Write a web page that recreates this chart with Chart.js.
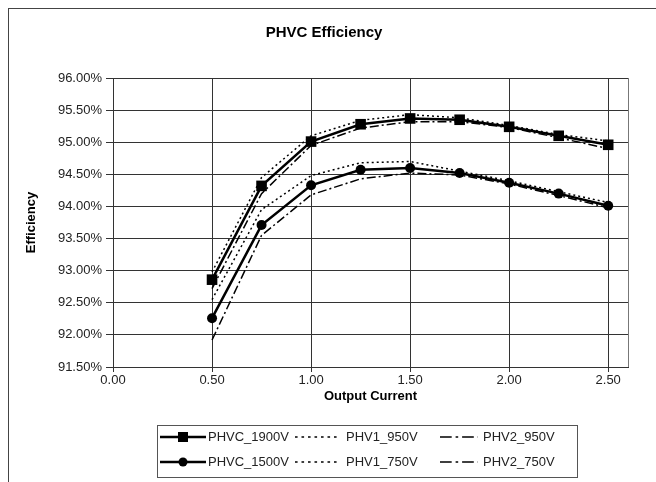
<!DOCTYPE html>
<html>
<head>
<meta charset="utf-8">
<title>PHVC Efficiency</title>
<script src="https://cdn.jsdelivr.net/npm/chart.js"></script>
<style>
  html, body { margin: 0; padding: 0; background: #fff; }
  #wrap { width: 656px; height: 482px; }
</style>
</head>
<body>
<div id="wrap"><canvas id="effChart" width="656" height="482"></canvas></div>
<script>
// values (efficiency in %)
const current = [0.5, 0.75, 1.0, 1.25, 1.5, 1.75, 2.0, 2.25, 2.5];
const phvc1900 = [92.86, 94.32, 95.01, 95.28, 95.37, 95.35, 95.24, 95.10, 94.96];
const phvc1500 = [92.26, 93.71, 94.33, 94.57, 94.60, 94.52, 94.37, 94.20, 94.01];
const phv1_950 = [92.98, 94.45, 95.10, 95.34, 95.43, 95.38, 95.26, 95.12, 95.02];
const phv1_750 = [92.55, 93.95, 94.48, 94.68, 94.70, 94.55, 94.40, 94.23, 94.06];
const phv2_950 = [92.72, 94.20, 94.95, 95.22, 95.32, 95.32, 95.23, 95.07, 94.90];
const phv2_750 = [91.92, 93.55, 94.18, 94.43, 94.52, 94.49, 94.35, 94.17, 93.98];

const FONT = '"Liberation Sans", Arial, sans-serif';

const pts = (vals) => vals.map((v, i) => ({ x: current[i], y: v }));

const solid = (label, vals, style, radius) => ({
  label, data: pts(vals),
  borderColor: '#000', backgroundColor: '#000',
  borderWidth: 2.5, pointStyle: style, pointRadius: radius,
  pointBorderWidth: 0, tension: 0
});
const dashed = (label, vals, dash) => ({
  label, data: pts(vals),
  borderColor: '#000', borderWidth: 1.5, borderDash: dash,
  pointRadius: 0, tension: 0
});

const datasets = [
  solid('PHVC_1900V', phvc1900, 'rect', 7.5),
  solid('PHVC_1500V', phvc1500, 'circle', 5),
  dashed('PHV1_950V', phv1_950, [2, 3]),
  dashed('PHV1_750V', phv1_750, [2, 3]),
  dashed('PHV2_950V', phv2_950, [9, 3, 2, 3]),
  dashed('PHV2_750V', phv2_750, [9, 3, 2, 3])
];

// outer frame, plot border and the boxed legend
const extras = {
  id: 'extras',
  beforeDraw(chart) {
    const ctx = chart.ctx;
    ctx.save();
    ctx.strokeStyle = '#444';
    ctx.lineWidth = 1;
    ctx.strokeRect(8.5, 8.5, 900, 900);
    ctx.restore();
  },
  afterDraw(chart) {
    const ctx = chart.ctx;
    const a = chart.chartArea;
    ctx.save();
    ctx.strokeStyle = '#777';
    ctx.lineWidth = 1;
    ctx.beginPath();
    ctx.moveTo(Math.round(a.right) + 0.5, a.top);
    ctx.lineTo(Math.round(a.right) + 0.5, a.bottom);
    ctx.stroke();

    // legend
    ctx.strokeStyle = '#555';
    ctx.strokeRect(157.5, 425.5, 420, 52);
    const cols = [{ x: 160, w: 46, t: 208 }, { x: 295, w: 45, t: 346 }, { x: 440, w: 38, t: 483 }];
    const rows = [437, 462];
    ctx.font = '13px ' + FONT;
    ctx.fillStyle = '#222';
    ctx.textBaseline = 'middle';
    chart.data.datasets.forEach((ds, i) => {
      const c = cols[Math.floor(i / 2)];
      const y = rows[i % 2];
      ctx.save();
      ctx.strokeStyle = ds.borderColor;
      ctx.lineWidth = ds.borderWidth;
      ctx.setLineDash((ds.borderDash || []).map(d => d * 1.3));
      ctx.beginPath();
      ctx.moveTo(c.x, y);
      ctx.lineTo(c.x + c.w, y);
      ctx.stroke();
      ctx.restore();
      if (ds.pointRadius > 0) {
        const mx = c.x + c.w / 2;
        ctx.fillStyle = '#000';
        if (ds.pointStyle === 'rect') {
          ctx.fillRect(mx - 5, y - 5, 10, 10);
        } else {
          ctx.beginPath();
          ctx.arc(mx, y, 4.5, 0, Math.PI * 2);
          ctx.fill();
        }
        ctx.fillStyle = '#222';
      }
      ctx.fillText(ds.label, c.t, y + 0.5);
    });
    ctx.restore();
  }
};

new Chart(document.getElementById('effChart'), {
  type: 'line',
  data: { datasets },
  options: {
    responsive: false,
    animation: false,
    layout: { padding: { left: 20, right: 28, top: 10, bottom: 76 } },
    plugins: {
      legend: { display: false },
      tooltip: { enabled: false },
      title: {
        display: true,
        text: 'PHVC Efficiency',
        color: '#000',
        font: { family: FONT, size: 15, weight: 'bold' },
        padding: { top: 14, bottom: 36 }
      }
    },
    scales: {
      x: {
        type: 'linear',
        min: 0, max: 2.6,
        afterFit: (s) => { s.height = 39; },
        ticks: {
          stepSize: 0.5, includeBounds: false, padding: 1,
          color: '#222', font: { family: FONT, size: 13 },
          callback: (v) => v.toFixed(2)
        },
        grid: { color: '#333', lineWidth: 1, tickLength: 5, tickColor: '#333' },
        border: { color: '#333' },
        title: {
          display: true, text: 'Output Current', color: '#000',
          font: { family: FONT, size: 13, weight: 'bold' },
          padding: { top: 2, bottom: 2 }
        }
      },
      y: {
        min: 91.5, max: 96,
        afterFit: (s) => { s.width = 93; },
        ticks: {
          stepSize: 0.5, padding: 4,
          color: '#222', font: { family: FONT, size: 13 },
          callback: (v) => v.toFixed(2) + '%'
        },
        grid: { color: '#333', lineWidth: 1, tickLength: 7, tickColor: '#333' },
        border: { color: '#333' },
        title: {
          display: true, text: 'Efficiency', color: '#000',
          font: { family: FONT, size: 13, weight: 'bold' },
          padding: { top: 4, bottom: 4 }
        }
      }
    }
  },
  plugins: [extras]
});
</script>
</body>
</html>
